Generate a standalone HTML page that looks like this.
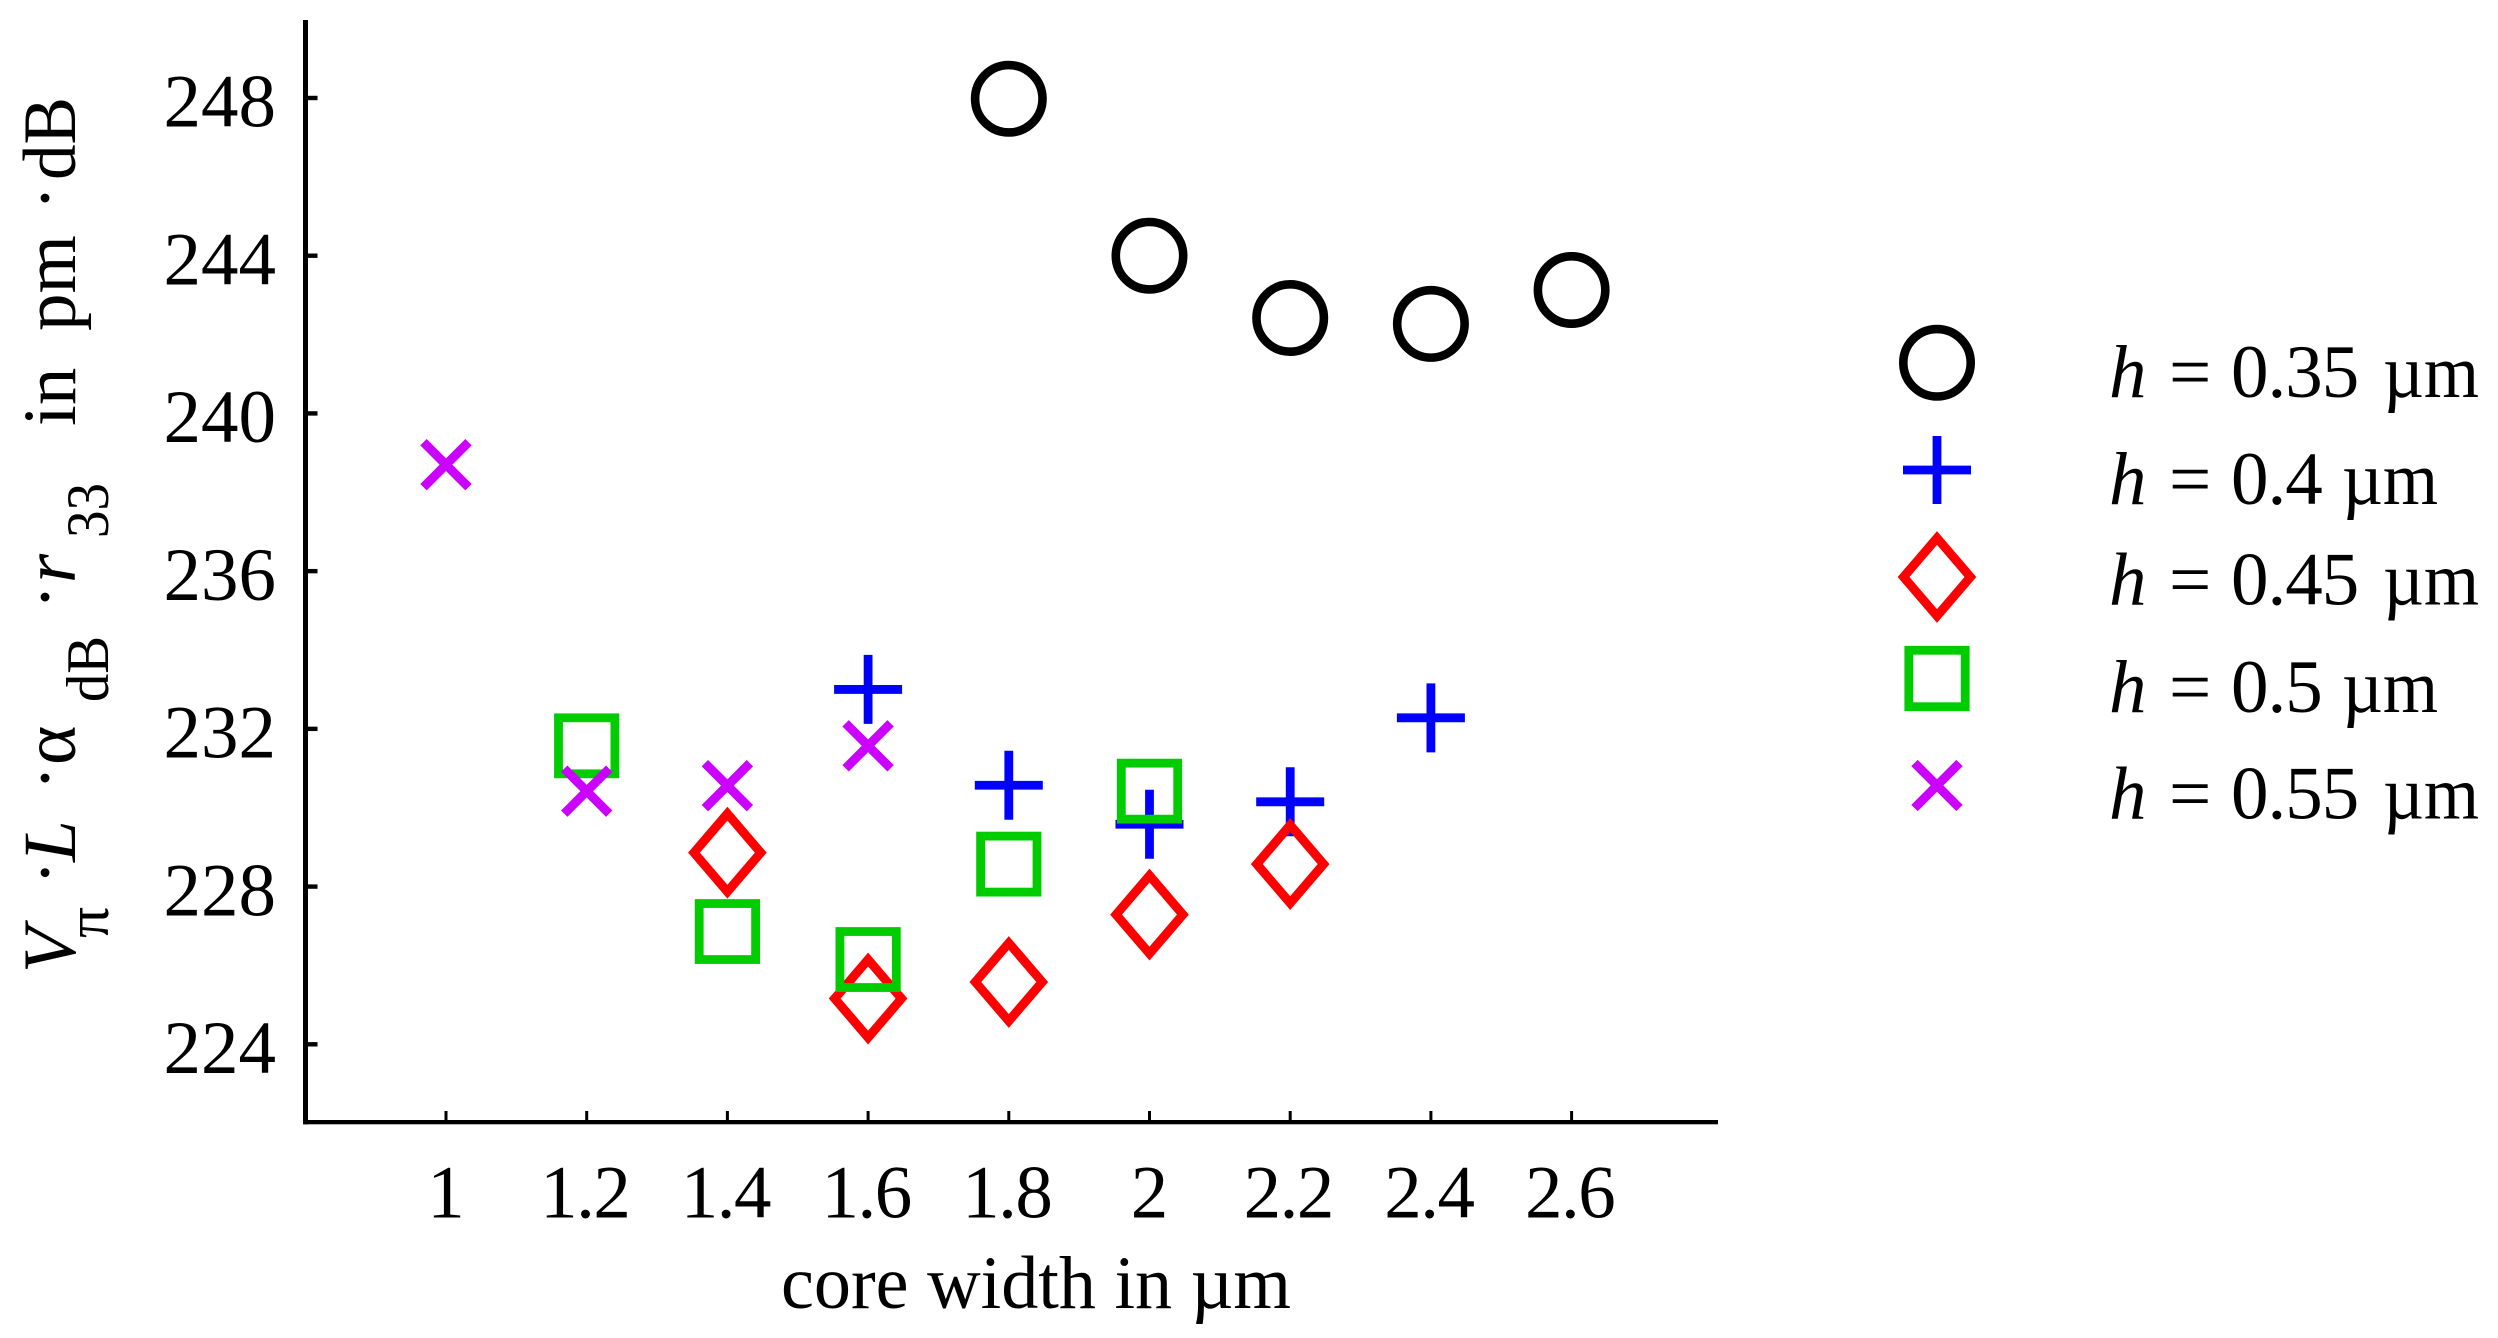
<!DOCTYPE html>
<html lang="en">
<head>
<meta charset="utf-8">
<title>Scatter chart of figure of merit against core width</title>
<style>
  html, body { margin: 0; padding: 0; background: #ffffff; }
  svg { display: block; }
  text { font-family: "Liberation Serif", "DejaVu Serif", serif; fill: #000; }
  .main { font-size: 75px; }
  .sub { font-size: 60px; }
  .it { font-style: italic; }
</style>
</head>
<body>
<svg id="chart" xmlns="http://www.w3.org/2000/svg" width="2498" height="1338" viewBox="0 0 2498 1338">
  <rect x="0" y="0" width="2498" height="1338" fill="#ffffff"/>
  <g id="y-ticks"></g>
  <g id="x-ticks"></g>
  <rect x="303" y="20" width="5" height="1104.3" fill="#000"/>
  <rect x="303" y="1120" width="1415" height="4.3" fill="#000"/>

  <g id="series"></g>

  <text class="main" x="781" y="1308" textLength="510" lengthAdjust="spacingAndGlyphs">core width in µm</text>

  <g>
    <text class="main it" transform="translate(75,973) rotate(-90)">V</text>
    <text class="sub" transform="translate(108,938) rotate(-90)" textLength="31" lengthAdjust="spacingAndGlyphs">π</text>
    <text class="main" text-anchor="middle" transform="translate(70,872.7) rotate(-90)">·</text>
    <text class="main it" transform="translate(75,862) rotate(-90)">L</text>
    <text class="main" text-anchor="middle" transform="translate(70,778) rotate(-90)">·</text>
    <text class="main" transform="translate(75,765) rotate(-90)" font-size="78">α</text>
    <text class="sub" transform="translate(108,702) rotate(-90)" textLength="66" lengthAdjust="spacingAndGlyphs">dB</text>
    <text class="main" text-anchor="middle" transform="translate(70,597) rotate(-90)">·</text>
    <text class="main it" transform="translate(75,583) rotate(-90)">r</text>
    <text class="sub" transform="translate(108,538) rotate(-90)" textLength="55" lengthAdjust="spacingAndGlyphs">33</text>
    <text class="main" transform="translate(75,426) rotate(-90)">in</text>
    <text class="main" transform="translate(75,331) rotate(-90)">pm</text>
    <text class="main" text-anchor="middle" transform="translate(70,198) rotate(-90)">·</text>
    <text class="main" transform="translate(75,180) rotate(-90)" textLength="83" lengthAdjust="spacingAndGlyphs">dB</text>
  </g>

  <g>
    <g>
      <circle cx="1937" cy="362.8" r="33.7" fill="none" stroke="#000" stroke-width="8.6"/>
      <text class="main" y="397"><tspan class="it" x="2109">h</tspan><tspan x="2169">=</tspan><tspan x="2231" letter-spacing="-1">0.35</tspan></text>
      <text class="main" x="2383" y="397" textLength="96" lengthAdjust="spacingAndGlyphs">µm</text>
    </g>
    <g>
      <path d="M1903 470H1971M1937 436V504" fill="none" stroke="#0000ff" stroke-width="8.8"/>
      <text class="main" y="504"><tspan class="it" x="2109">h</tspan><tspan x="2169">=</tspan><tspan x="2231" letter-spacing="-1">0.4</tspan></text>
      <text class="main" x="2342" y="504" textLength="96" lengthAdjust="spacingAndGlyphs">µm</text>
    </g>
    <g>
      <path d="M1937 538L1970.4 577L1937 616L1903.6 577Z" fill="none" stroke="#ff0000" stroke-width="9"/>
      <text class="main" y="604.7"><tspan class="it" x="2109">h</tspan><tspan x="2169">=</tspan><tspan x="2231" letter-spacing="-1">0.45</tspan></text>
      <text class="main" x="2383" y="604.7" textLength="96" lengthAdjust="spacingAndGlyphs">µm</text>
    </g>
    <g>
      <rect x="1908.8" y="650.3" width="56.4" height="56.4" fill="none" stroke="#00cc00" stroke-width="8.8"/>
      <text class="main" y="712"><tspan class="it" x="2109">h</tspan><tspan x="2169">=</tspan><tspan x="2231" letter-spacing="-1">0.5</tspan></text>
      <text class="main" x="2342" y="712" textLength="96" lengthAdjust="spacingAndGlyphs">µm</text>
    </g>
    <g>
      <path d="M1914.5 763L1959.5 808M1959.5 763L1914.5 808" fill="none" stroke="#cc00ff" stroke-width="9"/>
      <text class="main" y="818.7"><tspan class="it" x="2109">h</tspan><tspan x="2169">=</tspan><tspan x="2231" letter-spacing="-1">0.55</tspan></text>
      <text class="main" x="2383" y="818.7" textLength="96" lengthAdjust="spacingAndGlyphs">µm</text>
    </g>
  </g>
</svg>

<script>
const xTickValues = [1, 1.2, 1.4, 1.6, 1.8, 2, 2.2, 2.4, 2.6];
const xTickLabels = ['1', '1.2', '1.4', '1.6', '1.8', '2', '2.2', '2.4', '2.6'];
const yTickValues = [224, 228, 232, 236, 240, 244, 248];
const yTickLabels = ['224', '228', '232', '236', '240', '244', '248'];

const h035Widths = [1.8, 2, 2.2, 2.4, 2.6];
const h035Values = [247.98, 244.0, 242.42, 242.27, 243.13];
const h040Widths = [1.6, 1.8, 2, 2.2, 2.4];
const h040Values = [233.0, 230.57, 229.58, 230.15, 232.28];
const h045Widths = [1.4, 1.6, 1.8, 2, 2.2];
const h045Values = [228.86, 225.16, 225.58, 227.29, 228.57];
const h050Widths = [1.2, 1.4, 1.6, 1.8, 2];
const h050Values = [231.57, 226.86, 226.15, 228.57, 230.42];
const h055Widths = [1, 1.2, 1.4, 1.6];
const h055Values = [238.7, 230.42, 230.56, 231.57];

const SVG_NS = 'http://www.w3.org/2000/svg';
const sx = (v) => 446 + (v - 1) / 0.2 * 140.7;
const sy = (v) => 1044.3 - (v - 224) * 39.43;

function make(tag) {
  return document.createElementNS(SVG_NS, tag);
}

const yTicks = document.getElementById('y-ticks');
yTickValues.forEach((v, i) => {
  const tick = make('rect');
  
  
  tick.setAttribute('x', 308);
  tick.setAttribute('y', sy(v) - 2.2);
  tick.setAttribute('width', 9.5);
  tick.setAttribute('height', 4.4);
  tick.setAttribute('fill', '#000');
  yTicks.appendChild(tick);
  const label = make('text');
  
  
  label.setAttribute('class', 'main');
  label.setAttribute('x', 276);
  label.setAttribute('y', sy(v) + 28.7);
  label.setAttribute('text-anchor', 'end');
  label.textContent = yTickLabels[i];
  yTicks.appendChild(label);
});

const xTicks = document.getElementById('x-ticks');
xTickValues.forEach((v, i) => {
  const tick = make('rect');
  
  
  tick.setAttribute('x', sx(v) - 1.5);
  tick.setAttribute('y', 1111);
  tick.setAttribute('width', 3);
  tick.setAttribute('height', 9.5);
  tick.setAttribute('fill', '#000');
  xTicks.appendChild(tick);
  const label = make('text');
  
  
  label.setAttribute('class', 'main');
  label.setAttribute('x', sx(v) - (xTickLabels[i].length > 1 ? 2 : 0));
  label.setAttribute('y', 1217.7);
  label.setAttribute('text-anchor', 'middle');
  if (xTickLabels[i].length > 1) {
    label.setAttribute('letter-spacing', '-1.5');
  }
  label.textContent = xTickLabels[i];
  xTicks.appendChild(label);
});

const series = document.getElementById('series');

h035Widths.forEach((w, i) => {
  const el = make('circle');
  
  
  el.setAttribute('cx', sx(w));
  el.setAttribute('cy', sy(h035Values[i]));
  el.setAttribute('r', 33.7);
  el.setAttribute('fill', 'none');
  el.setAttribute('stroke', '#000000');
  el.setAttribute('stroke-width', 8.6);
  series.appendChild(el);
});

h040Widths.forEach((w, i) => {
  const cx = sx(w);
  const cy = sy(h040Values[i]);
  const el = make('path');
  
  
  el.setAttribute('d', `M${cx - 34} ${cy}H${cx + 34}M${cx} ${cy - 34.5}V${cy + 34.5}`);
  el.setAttribute('fill', 'none');
  el.setAttribute('stroke', '#0000ff');
  el.setAttribute('stroke-width', 8.8);
  series.appendChild(el);
});

h045Widths.forEach((w, i) => {
  const cx = sx(w);
  const cy = sy(h045Values[i]);
  const el = make('path');
  
  
  el.setAttribute('d', `M${cx} ${cy - 39}L${cx + 33.4} ${cy}L${cx} ${cy + 39}L${cx - 33.4} ${cy}Z`);
  el.setAttribute('fill', 'none');
  el.setAttribute('stroke', '#ff0000');
  el.setAttribute('stroke-width', 9);
  series.appendChild(el);
});

h050Widths.forEach((w, i) => {
  const el = make('rect');
  
  
  el.setAttribute('x', sx(w) - 28.2);
  el.setAttribute('y', sy(h050Values[i]) - 28);
  el.setAttribute('width', 56.4);
  el.setAttribute('height', 56);
  el.setAttribute('fill', 'none');
  el.setAttribute('stroke', '#00cc00');
  el.setAttribute('stroke-width', 8.8);
  series.appendChild(el);
});

h055Widths.forEach((w, i) => {
  const cx = sx(w);
  const cy = sy(h055Values[i]);
  const el = make('path');
  
  
  el.setAttribute('d', `M${cx - 22.5} ${cy - 22.5}L${cx + 22.5} ${cy + 22.5}M${cx + 22.5} ${cy - 22.5}L${cx - 22.5} ${cy + 22.5}`);
  el.setAttribute('fill', 'none');
  el.setAttribute('stroke', '#cc00ff');
  el.setAttribute('stroke-width', 9);
  series.appendChild(el);
});
</script>
</body>
</html>
